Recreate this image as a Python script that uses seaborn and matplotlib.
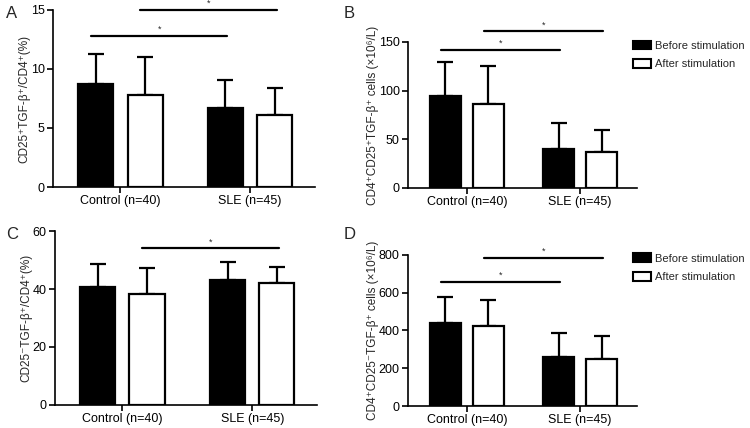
import matplotlib
matplotlib.use("Agg")
import matplotlib.pyplot as plt
import seaborn as sns
import pandas as pd
import numpy as np
from matplotlib.patches import Patch

sns.set_theme(style="ticks")
plt.rcParams['font.family'] = ['Liberation Sans', 'DejaVu Sans']

groups = ["Control (n=40)", "SLE (n=45)"]
conditions = ["Before stimulation", "After stimulation"]

# Panel A
A_before = [8.7, 6.7]
A_after = [7.8, 6.1]
A_sd_before = [2.6, 2.4]
A_sd_after = [3.25, 2.3]
# Panel B
B_before = [94.4, 40.2]
B_after = [86.3, 36.8]
B_sd_before = [34.5, 26.3]
B_sd_after = [39.2, 22.9]
# Panel C
C_before = [40.6, 43.0]
C_after = [38.3, 42.1]
C_sd_before = [8.1, 6.2]
C_sd_after = [9.0, 5.4]
# Panel D
D_before = [439, 258]
D_after = [425, 250]
D_sd_before = [136, 129]
D_sd_after = [137, 119]

A_ticks = [0, 5, 10, 15]
B_ticks = [0, 50, 100, 150]
C_ticks = [0, 20, 40, 60]
D_ticks = [0, 200, 400, 600, 800]

# significance: (bar index a, bar index b, height); bars: 0=Ctrl before,1=SLE before,2=Ctrl after,3=SLE after
A_sig = [(0, 1, 12.8), (2, 3, 15.0)]
B_sig = [(0, 1, 142), (2, 3, 161)]
C_sig = [(2, 3, 54.0)]
D_sig = [(0, 1, 657), (2, 3, 786)]

A_label = "CD25\u207aTGF-\u03b2\u207a/CD4\u207a(%)"
B_label = "CD4\u207aCD25\u207aTGF-\u03b2\u207a cells (\u00d710\u2076/L)"
C_label = "CD25\u207bTGF-\u03b2\u207a/CD4\u207a(%)"
D_label = "CD4\u207aCD25\u207bTGF-\u03b2\u207a cells (\u00d710\u2076/L)"

fig = plt.figure(figsize=(7.5, 4.28), dpi=100)

def panel(rect, before, after, sdb, sda, ticks, label, sig, letter, letter_pos, legend=False):
    ax = fig.add_axes(rect)
    df = pd.DataFrame({
        "group": groups * 2,
        "condition": [conditions[0]] * 2 + [conditions[1]] * 2,
        "value": list(before) + list(after),
        "sd": list(sdb) + list(sda),
    })
    sns.barplot(data=df, x="group", y="value", hue="condition", order=groups,
                hue_order=conditions, palette=["black", "white"], saturation=1,
                edgecolor="black", linewidth=1.6, width=0.76, gap=0.29,
                errorbar=None, legend=False, ax=ax)
    bars = ax.patches[:4]
    centers = [p.get_x() + p.get_width() / 2 for p in bars]
    heights = [p.get_height() for p in bars]
    sds = list(df["sd"])
    for p in bars:
        p.set_zorder(3)
    ax.errorbar(centers, heights, yerr=[np.zeros(4), sds], fmt="none",
                ecolor="black", elinewidth=1.6, capsize=5.5, capthick=1.6, zorder=2)
    ymax = ticks[-1]
    ax.set_ylim(0, ymax)
    ax.set_yticks(ticks)
    ax.set_xlim(-0.52, 1.5)
    for a, b, h in sig:
        x0 = centers[a] - 0.035
        x1 = centers[b] + 0.015
        ax.plot([x0, x1], [h, h], color="black", lw=1.6, clip_on=False, zorder=4)
        ax.text((x0 + x1) / 2, h + ymax * 0.012, "*", ha="center", va="bottom",
                fontsize=6.5, clip_on=False)
    sns.despine(ax=ax)
    for s in ["left", "bottom"]:
        ax.spines[s].set_linewidth(1.2)
        ax.spines[s].set_color("black")
    ax.tick_params(axis="both", direction="out", length=4, width=1.2, labelsize=9,
                   colors="black", pad=2)
    ax.set_xlabel("")
    ax.set_ylabel(label, fontsize=8.5, labelpad=0)
    fig.text(letter_pos[0], letter_pos[1], letter, fontsize=12, ha="left", va="center")
    if legend:
        handles = [Patch(facecolor="black", edgecolor="black", linewidth=1.5),
                   Patch(facecolor="white", edgecolor="black", linewidth=1.5)]
        ax.legend(handles, conditions, loc="upper left", bbox_to_anchor=(0.965, 1.04),
                  frameon=False, fontsize=8, handlelength=1.6, handleheight=0.85,
                  handletextpad=0.35, labelspacing=0.75, borderaxespad=0)
    return ax

panel([0.0707, 0.563, 0.349, 0.414], A_before, A_after, A_sd_before, A_sd_after,
      A_ticks, A_label, A_sig, "A", (0.008, 0.968))
panel([0.544, 0.561, 0.305, 0.341], B_before, B_after, B_sd_before, B_sd_after,
      B_ticks, B_label, B_sig, "B", (0.458, 0.968), legend=True)
panel([0.073, 0.054, 0.350, 0.406], C_before, C_after, C_sd_before, C_sd_after,
      C_ticks, C_label, C_sig, "C", (0.008, 0.453))
panel([0.544, 0.0514, 0.305, 0.353], D_before, D_after, D_sd_before, D_sd_after,
      D_ticks, D_label, D_sig, "D", (0.458, 0.453), legend=True)

fig.savefig("out.png", dpi=100)
